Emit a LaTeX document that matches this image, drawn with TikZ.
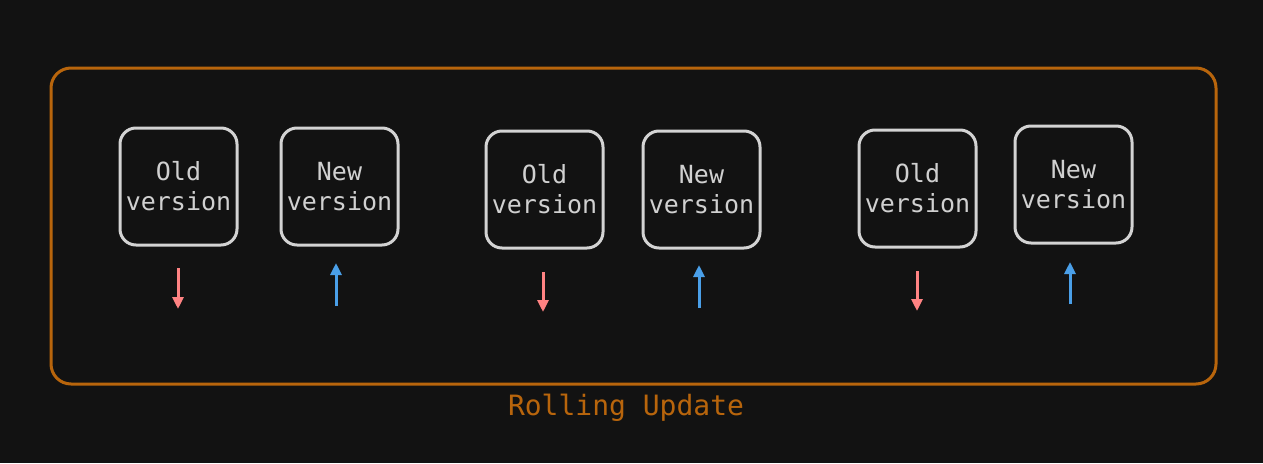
\documentclass[tikz,border=0pt]{standalone}
\usepackage{fontspec}
\setmonofont{DejaVu Sans Mono}
\usetikzlibrary{arrows.meta}
\definecolor{bg}{HTML}{121212}
\definecolor{frame}{HTML}{B8650C}
\definecolor{boxline}{HTML}{D3D3D3}
\definecolor{boxtext}{HTML}{D0D0D0}
\definecolor{oldred}{HTML}{FF8383}
\definecolor{newblue}{HTML}{4A9FE8}
\tikzset{
  verbox/.style={draw=boxline, line width=3pt, rounded corners=16pt, minimum width=117pt, minimum height=117pt, inner sep=0pt, align=center, text=boxtext, font=\ttfamily\fontsize{25}{30}\selectfont},
  outframe/.style={draw=frame, line width=3pt, rounded corners=20pt},
  downarr/.style={draw=oldred, line width=3pt, -{Triangle[length=12pt,width=11pt]}},
  uparr/.style={draw=newblue, line width=3pt, -{Triangle[length=12pt,width=11pt]}},
}
\begin{document}
\begin{tikzpicture}[x=1pt,y=-1pt]
\fill[bg] (0,0) rectangle (1263,463);
\useasboundingbox (0,0) rectangle (1263,463);
\node[outframe, minimum width=1165pt, minimum height=316pt] (frame) at (633.5,226) {};
\node[text=frame, font=\ttfamily\fontsize{28}{30}\selectfont] (label) at (626,408) {Rolling Update};
\node[verbox] (o1) at (178.5,186.5) {Old\\version};
\node[verbox] (n1) at (339.5,186.5) {New\\version};
\node[verbox] (o2) at (544.5,189.5) {Old\\version};
\node[verbox] (n2) at (701.5,189.5) {New\\version};
\node[verbox] (o3) at (917.5,188.5) {Old\\version};
\node[verbox] (n3) at (1073.5,184.5) {New\\version};
\coordinate (a1s) at (178,268); \coordinate (a1e) at (178,309);
\coordinate (b1s) at (336,306); \coordinate (b1e) at (336,263);
\coordinate (a2s) at (543,272); \coordinate (a2e) at (543,312);
\coordinate (b2s) at (699,308); \coordinate (b2e) at (699,265);
\coordinate (a3s) at (917,271); \coordinate (a3e) at (917,311);
\coordinate (b3s) at (1070,304); \coordinate (b3e) at (1070,262);
\draw[downarr] (a1s) -- (a1e);
\draw[uparr] (b1s) -- (b1e);
\draw[downarr] (a2s) -- (a2e);
\draw[uparr] (b2s) -- (b2e);
\draw[downarr] (a3s) -- (a3e);
\draw[uparr] (b3s) -- (b3e);
\end{tikzpicture}
\end{document}
